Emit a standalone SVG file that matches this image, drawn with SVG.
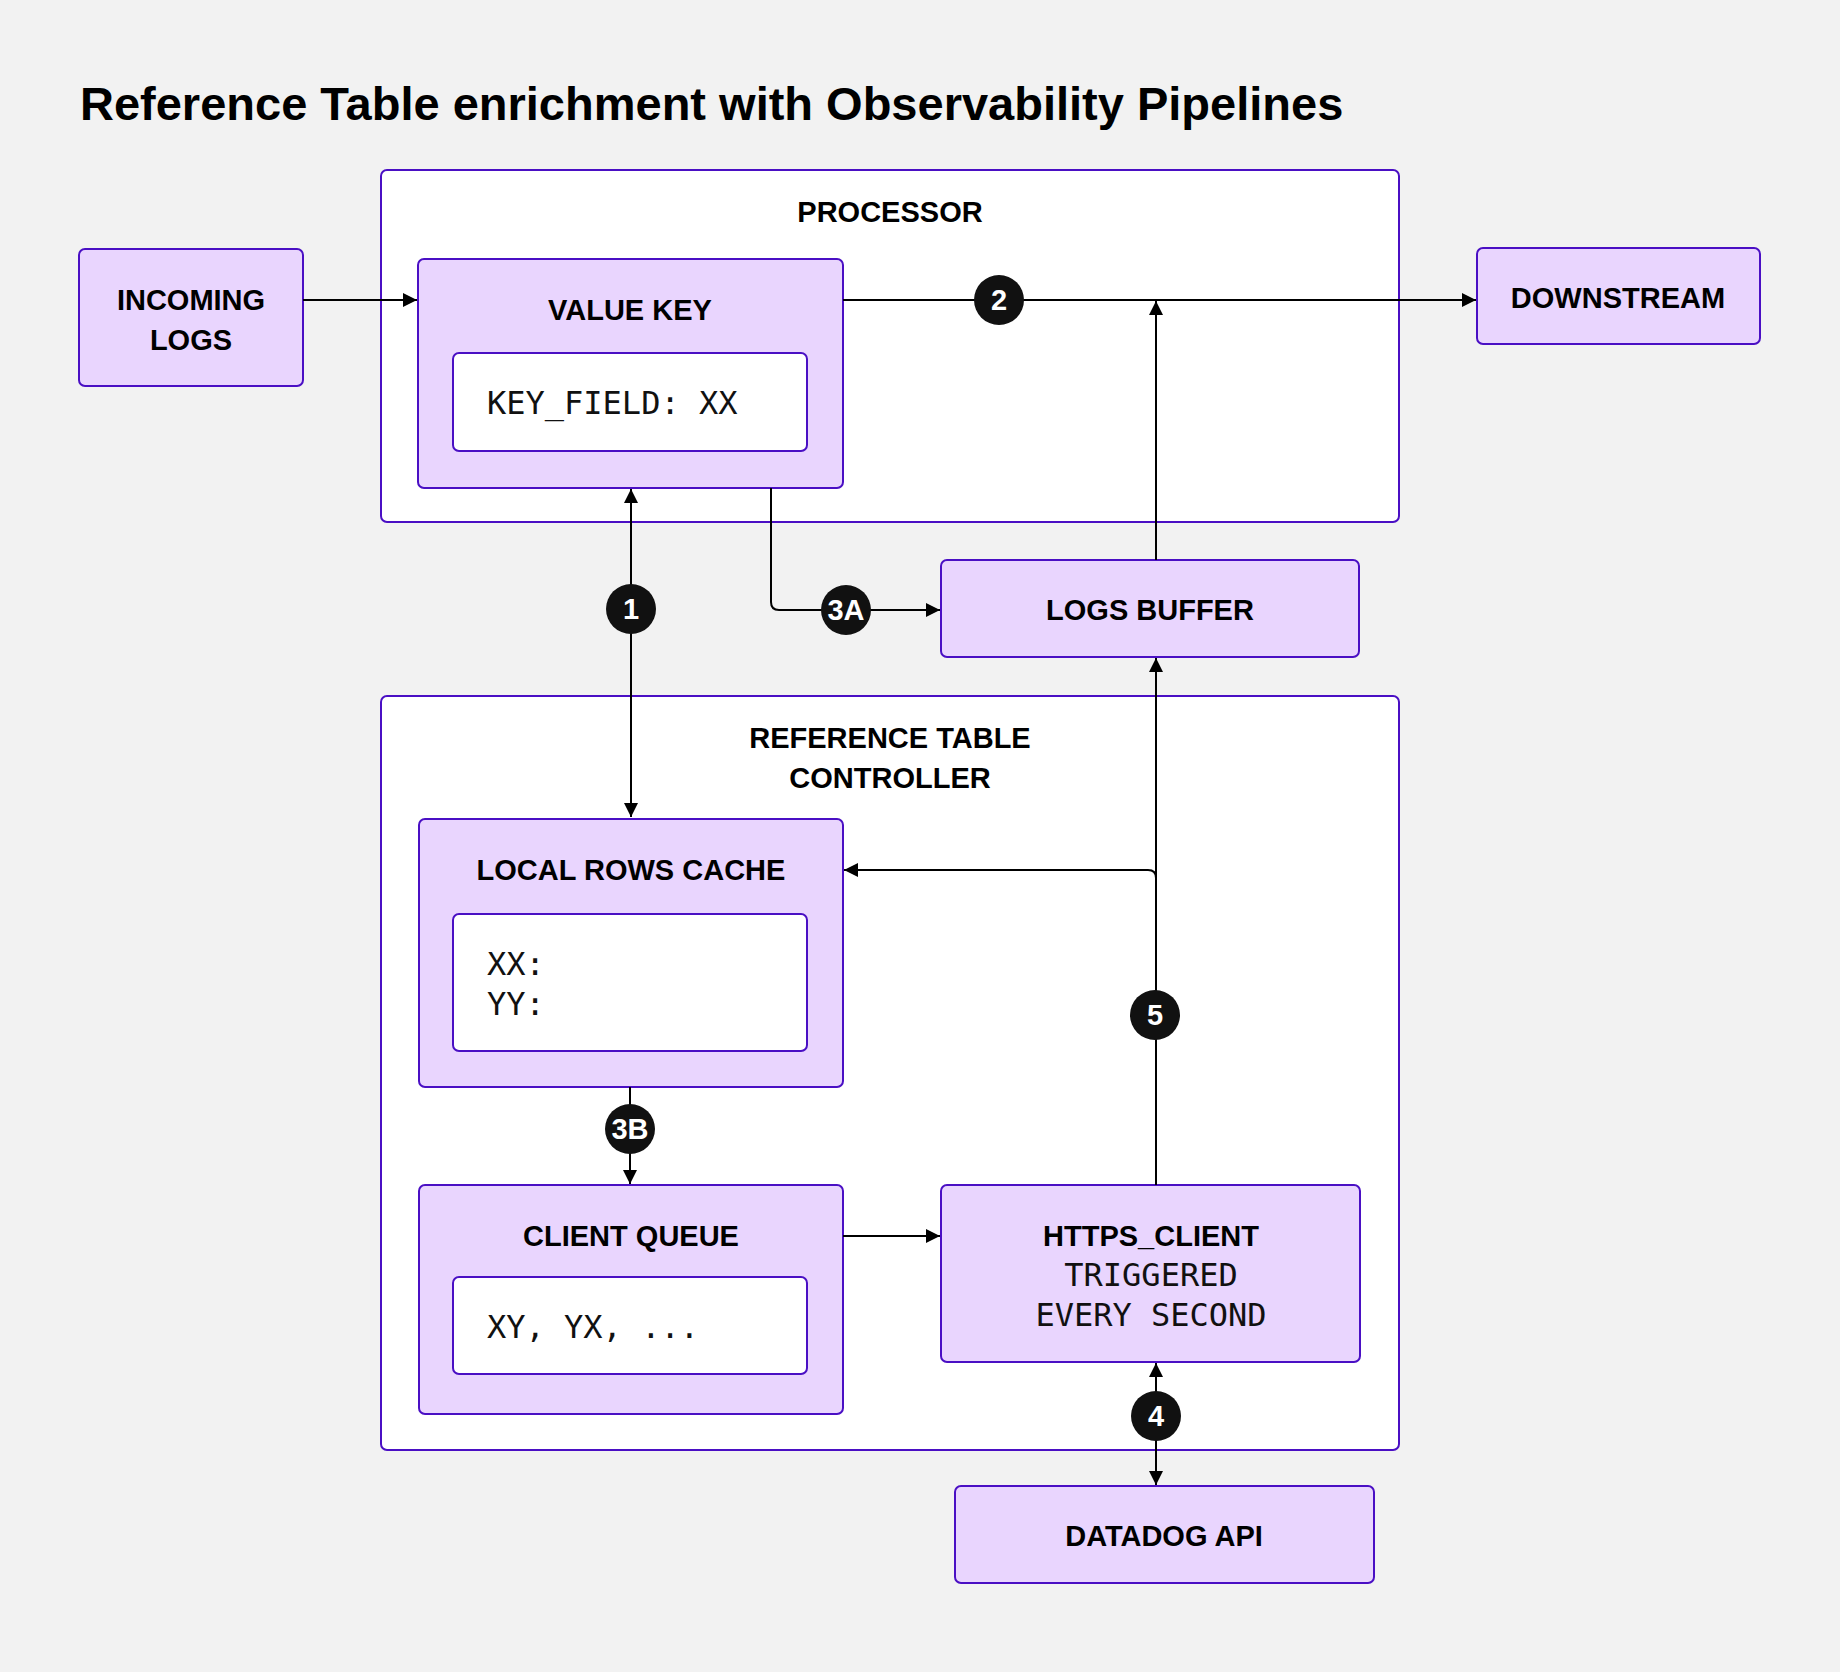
<svg xmlns="http://www.w3.org/2000/svg" width="1840" height="1672" viewBox="0 0 1840 1672">
<style>
.c{fill:#fff;stroke:#4a0fc4;stroke-width:2}
.n{fill:#e9d5fe;stroke:#4a0fc4;stroke-width:2}
.i{fill:#fff;stroke:#4a0fc4;stroke-width:2}
.t{font-family:"Liberation Sans",Arial,sans-serif;font-weight:bold;font-size:29px;fill:#000;text-anchor:middle}
.m{font-family:"DejaVu Sans Mono","Liberation Mono",monospace;font-size:32px;fill:#111}
.l{fill:none;stroke:#000;stroke-width:2}
.b circle{fill:#111}
.b text{font-family:"Liberation Sans",Arial,sans-serif;font-weight:bold;font-size:29px;fill:#fff;text-anchor:middle}
</style>
<defs>
<marker id="a" viewBox="0 0 10 10" refX="10" refY="5" markerWidth="14" markerHeight="14" markerUnits="userSpaceOnUse" orient="auto-start-reverse"><path d="M0,0L10,5L0,10z" fill="#000"/></marker>
</defs>
<rect width="1840" height="1672" fill="#f2f2f2"/>
<text x="80" y="120" font-family="Liberation Sans,Arial,sans-serif" font-weight="bold" font-size="47" fill="#000">Reference Table enrichment with Observability Pipelines</text>
<g id="processor"><rect class="c" x="381" y="170" width="1018" height="352" rx="6"/><text class="t" x="890" y="222">PROCESSOR</text></g>
<g id="controller"><rect class="c" x="381" y="696" width="1018" height="754" rx="6"/><text class="t" x="890" y="748">REFERENCE TABLE</text><text class="t" x="890" y="788">CONTROLLER</text></g>
<g id="incoming"><rect class="n" x="79" y="249" width="224" height="137" rx="6"/><text class="t" x="191" y="310">INCOMING</text><text class="t" x="191" y="350">LOGS</text></g>
<g id="valuekey"><rect class="n" x="418" y="259" width="425" height="229" rx="6"/><text class="t" x="630" y="320">VALUE KEY</text><rect class="i" x="453" y="353" width="354" height="98" rx="6"/><text class="m" x="487" y="414">KEY_FIELD: XX</text></g>
<g id="downstream"><rect class="n" x="1477" y="248" width="283" height="96" rx="6"/><text class="t" x="1618" y="308">DOWNSTREAM</text></g>
<g id="logsbuffer"><rect class="n" x="941" y="560" width="418" height="97" rx="6"/><text class="t" x="1150" y="620">LOGS BUFFER</text></g>
<g id="cache"><rect class="n" x="419" y="819" width="424" height="268" rx="6"/><text class="t" x="631" y="880">LOCAL ROWS CACHE</text><rect class="i" x="453" y="914" width="354" height="137" rx="6"/><text class="m" x="487" y="975">XX:</text><text class="m" x="487" y="1015">YY:</text></g>
<g id="queue"><rect class="n" x="419" y="1185" width="424" height="229" rx="6"/><text class="t" x="631" y="1246">CLIENT QUEUE</text><rect class="i" x="453" y="1277" width="354" height="97" rx="6"/><text class="m" x="487" y="1338">XY, YX, ...</text></g>
<g id="https"><rect class="n" x="941" y="1185" width="419" height="177" rx="6"/><text class="t" x="1151" y="1246">HTTPS_CLIENT</text><text class="m" x="1151" y="1286" text-anchor="middle">TRIGGERED</text><text class="m" x="1151" y="1326" text-anchor="middle">EVERY SECOND</text></g>
<g id="datadog"><rect class="n" x="955" y="1486" width="419" height="97" rx="6"/><text class="t" x="1164" y="1546">DATADOG API</text></g>
<g id="connectors">
<path class="l" d="M303,300H417" marker-end="url(#a)"/>
<path class="l" d="M843,300H1476" marker-end="url(#a)"/>
<path class="l" d="M1156,560V301" marker-end="url(#a)"/>
<path class="l" d="M771,488V602q0,8 8,8H940" marker-end="url(#a)"/>
<path class="l" d="M631,489V817" marker-start="url(#a)" marker-end="url(#a)"/>
<path class="l" d="M1156,1185V658" marker-end="url(#a)"/>
<path class="l" d="M1156,878q0,-8 -8,-8H844" marker-end="url(#a)"/>
<path class="l" d="M630,1087V1184" marker-end="url(#a)"/>
<path class="l" d="M843,1236H940" marker-end="url(#a)"/>
<path class="l" d="M1156,1363V1485" marker-start="url(#a)" marker-end="url(#a)"/>
<g class="b"><circle cx="999" cy="300" r="25"/><text x="999" y="310">2</text></g>
<g class="b"><circle cx="631" cy="609" r="25"/><text x="631" y="619">1</text></g>
<g class="b"><circle cx="846" cy="610" r="25"/><text x="846" y="620">3A</text></g>
<g class="b"><circle cx="1155" cy="1015" r="25"/><text x="1155" y="1025">5</text></g>
<g class="b"><circle cx="630" cy="1129" r="25"/><text x="630" y="1139">3B</text></g>
<g class="b"><circle cx="1156" cy="1416" r="25"/><text x="1156" y="1426">4</text></g>
</g>
</svg>
